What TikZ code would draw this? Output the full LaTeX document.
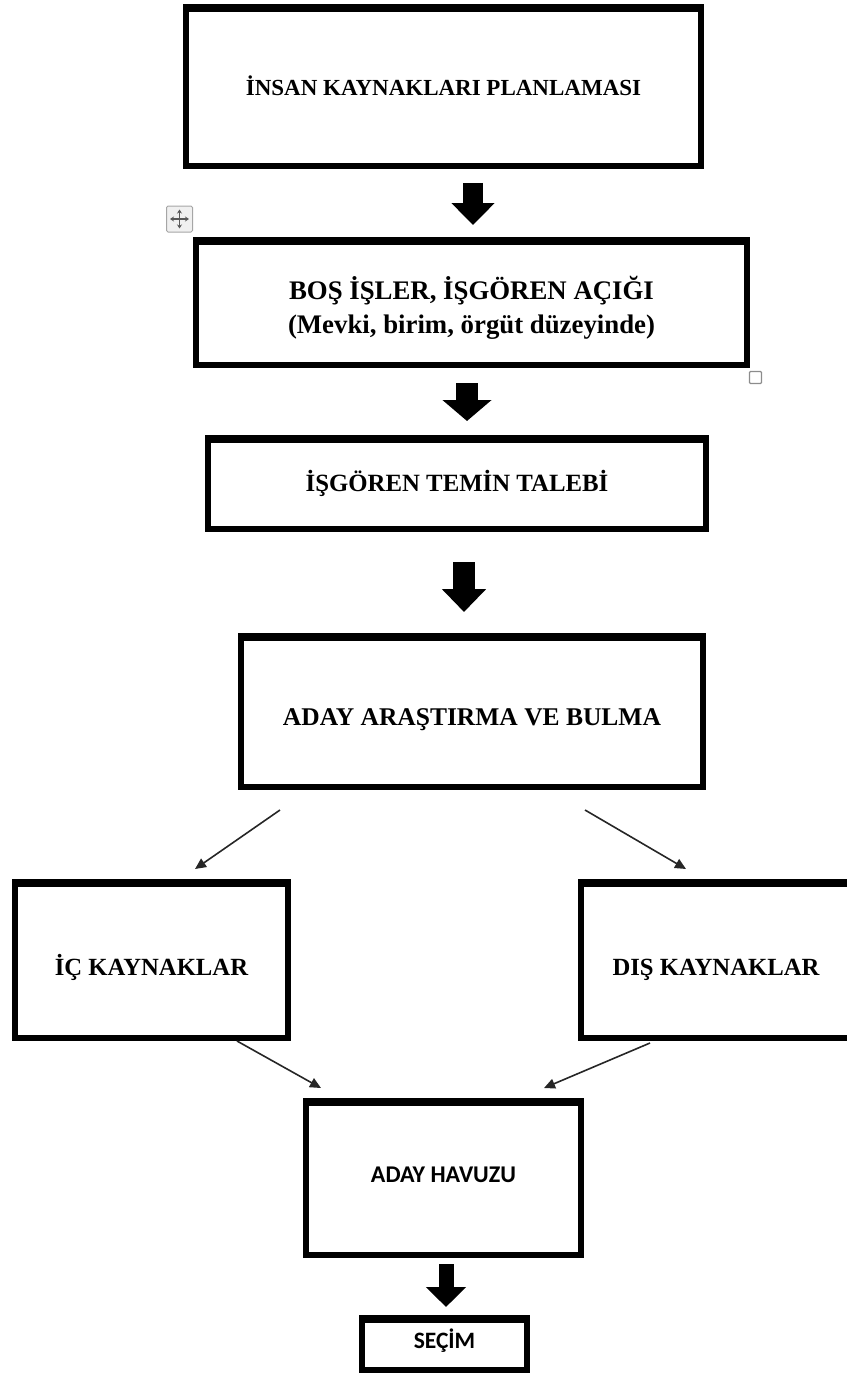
\documentclass[tikz,border=0pt]{standalone}
\usepackage{fontspec}
\setmainfont{Liberation Serif}
\newfontfamily\calib{Carlito}
\usetikzlibrary{arrows.meta}
\begin{document}
\begin{tikzpicture}[x=1pt,y=-1pt,
  box/.style={draw=black, line width=5.5pt, rectangle, inner sep=0pt, align=center,
    path picture={\fill[black] (path picture bounding box.north west) rectangle ([yshift=-5pt]path picture bounding box.north east);}},
  fs/.style={font=\bfseries\fontsize{#1}{#1}\selectfont},
  cs/.style={font=\calib\bfseries\fontsize{#1}{#1}\selectfont},
  th/.style={text height=#1, text depth=0pt},
  fatarrow/.style={draw=black, line width=#1},
  thinarrow/.style={draw=black!85, line width=1.6pt, -{Triangle[width=10pt,length=11pt]}},
  handle/.style={draw=black!35, fill=black!6, line width=1pt, rounded corners=1.5pt, minimum size=26pt, inner sep=0pt},
  handlecross/.style={draw=black!65, line width=1.2pt, {Stealth[length=4pt,width=5pt]}-{Stealth[length=4pt,width=5pt]}},
  resize/.style={draw=black!45, fill=white, line width=1.2pt, rounded corners=1pt, minimum size=12pt, inner sep=0pt}
]
\useasboundingbox (0,0) rectangle (846,1375);

% boxes
\node[box, fs=23, th=15.2pt, minimum width=515pt, minimum height=159pt] (b1) at (443.5,86.5) {\raisebox{-1.5pt}[\height][\depth]{İNSAN KAYNAKLARI PLANLAMASI}};
\node[box, minimum width=551pt, minimum height=125pt] (b2) at (471.5,302.5)
  {\raisebox{-7pt}[\height][\depth]{\bfseries\fontsize{26.8}{34}\selectfont\begin{tabular}{@{}c@{}}BOŞ İŞLER, İŞGÖREN AÇIĞI\\(Mevki, birim, örgüt düzeyinde)\end{tabular}}};
\node[box, fs=24.8, th=16.4pt, minimum width=498pt, minimum height=91pt] (b3) at (457,483.5) {İŞGÖREN TEMİN TALEBİ};
\node[box, fs=25.5, th=16.9pt, minimum width=462pt, minimum height=151pt] (b4) at (472,711.5) {\raisebox{-5.5pt}[\height][\depth]{ADAY ARAŞTIRMA VE BULMA}};
\node[box, fs=24.7, th=16.3pt, minimum width=273pt, minimum height=156pt] (b5) at (151.5,960) {\raisebox{-7pt}[\height][\depth]{İÇ KAYNAKLAR}};
\node[box, fs=24.7, th=16.3pt, minimum width=400pt, minimum height=156pt] (b6) at (781,960) {\hspace*{-130pt}\raisebox{-7pt}[\height][\depth]{DIŞ KAYNAKLAR}};
\node[box, cs=24, th=15.5pt, minimum width=275pt, minimum height=154pt] (b7) at (443.5,1178) {\raisebox{3pt}[\height][\depth]{ADAY HAVUZU}};
\node[box, cs=23.5, th=15.1pt, minimum width=165pt, minimum height=52pt] (b8) at (444.5,1344) {\raisebox{3pt}[\height][\depth]{SEÇİM}};

% handles
\node[handle] (mv) at (179.5,219) {};
\draw[handlecross] ([yshift=-4pt]mv.north) -- ([yshift=4pt]mv.south);
\draw[handlecross] ([xshift=4pt]mv.west) -- ([xshift=-4pt]mv.east);
\node[resize] (rs) at (755.5,377.5) {};

% block arrows
\coordinate (f1s) at (473,183); \coordinate (f1e) at (473,225);
\coordinate (f2s) at (467,383); \coordinate (f2e) at (467,421);
\coordinate (f3s) at (464,562); \coordinate (f3e) at (464,612);
\coordinate (f4s) at (446,1264); \coordinate (f4e) at (446,1307);
\draw[fatarrow=20pt, -{Triangle[width=42pt,length=22pt]}] (f1s) -- (f1e);
\draw[fatarrow=22pt, -{Triangle[width=48pt,length=21pt]}] (f2s) -- (f2e);
\draw[fatarrow=22pt, -{Triangle[width=43pt,length=23pt]}] (f3s) -- (f3e);
\draw[fatarrow=15pt, -{Triangle[width=39pt,length=20pt]}] (f4s) -- (f4e);

% thin arrows
\coordinate (t1s) at (280,810); \coordinate (t1e) at (195,869);
\coordinate (t2s) at (585,810); \coordinate (t2e) at (686,869);
\coordinate (t3s) at (237,1041); \coordinate (t3e) at (321,1088);
\coordinate (t4s) at (650,1043); \coordinate (t4e) at (544,1088);
\draw[thinarrow] (t1s) -- (t1e);
\draw[thinarrow] (t2s) -- (t2e);
\draw[thinarrow] (t3s) -- (t3e);
\draw[thinarrow] (t4s) -- (t4e);
\end{tikzpicture}
\end{document}
